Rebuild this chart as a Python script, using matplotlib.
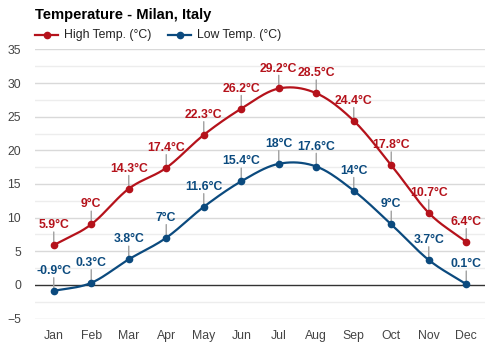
import numpy as np
import matplotlib
matplotlib.use("Agg")
import matplotlib.pyplot as plt
from matplotlib.lines import Line2D

plt.rcParams['font.family'] = ['Liberation Sans', 'DejaVu Sans']

months = ["Jan", "Feb", "Mar", "Apr", "May", "Jun", "Jul", "Aug", "Sep", "Oct", "Nov", "Dec"]
high = [5.9, 9.0, 14.3, 17.4, 22.3, 26.2, 29.2, 28.5, 24.4, 17.8, 10.7, 6.4]
low = [-0.9, 0.3, 3.8, 7.0, 11.6, 15.4, 18.0, 17.6, 14.0, 9.0, 3.7, 0.1]
high_labels = ["5.9°C", "9°C", "14.3°C", "17.4°C", "22.3°C", "26.2°C", "29.2°C", "28.5°C", "24.4°C", "17.8°C", "10.7°C", "6.4°C"]
low_labels = ["-0.9°C", "0.3°C", "3.8°C", "7°C", "11.6°C", "15.4°C", "18°C", "17.6°C", "14°C", "9°C", "3.7°C", "0.1°C"]
series_names = ["High Temp. (°C)", "Low Temp. (°C)"]
yticks = [-5, 0, 5, 10, 15, 20, 25, 30, 35]

RED = "#b5121b"
BLUE = "#0b4a7e"


def smooth(x, y, n=20):
    x = np.asarray(x, float)
    y = np.asarray(y, float)
    px = np.concatenate([[2 * x[0] - x[1]], x, [2 * x[-1] - x[-2]]])
    py = np.concatenate([[2 * y[0] - y[1]], y, [2 * y[-1] - y[-2]]])
    xs, ys = [], []
    for i in range(1, len(px) - 2):
        t = np.linspace(0, 1, n, endpoint=False)
        for arr, out in ((px, xs), (py, ys)):
            p0, p1, p2, p3 = arr[i - 1], arr[i], arr[i + 1], arr[i + 2]
            out.extend(0.5 * ((2 * p1) + (-p0 + p2) * t + (2 * p0 - 5 * p1 + 4 * p2 - p3) * t ** 2
                              + (-p0 + 3 * p1 - 3 * p2 + p3) * t ** 3))
    xs.append(x[-1])
    ys.append(y[-1])
    return np.array(xs), np.array(ys)


W, H = 500, 350
fig = plt.figure(figsize=(5, 3.5), dpi=100)
ax = fig.add_axes([0.07, 0.09, 0.90, 0.7686])
x = np.arange(len(months))

for yv in np.arange(-5, 35.1, 2.5):
    if yv == 0:
        continue
    major = (yv % 5 == 0)
    ax.axhline(yv, color="#d9d9d9" if major else "#ededed", lw=1.0, zorder=0)
ax.axhline(0, color="#333333", lw=1.0, zorder=1)

for vals, labels, col in ((high, high_labels, RED), (low, low_labels, BLUE)):
    sx, sy = smooth(x, vals)
    ax.plot(sx, sy, color=col, lw=1.6, zorder=3, solid_capstyle="round")
    ax.plot(x, vals, "o", color=col, ms=4.5, zorder=4)
    for xi, v, lab in zip(x, vals, labels):
        ax.annotate("", xy=(xi, v), xytext=(0, 9.5), textcoords="offset points",
                    arrowprops=dict(arrowstyle="-", color="#a0a0a0", lw=1.0, shrinkA=0, shrinkB=2),
                    zorder=2)
        ax.annotate(lab, xy=(xi, v), xytext=(0, 10), textcoords="offset points",
                    ha="center", va="bottom", color=col, fontsize=8.8, fontweight="bold", zorder=5)

ax.set_xlim(-0.5, 11.5)
ax.set_ylim(-5, 35)
ax.set_xticks(x)
ax.set_xticklabels(months)
ax.set_yticks(yticks)
for s in ax.spines.values():
    s.set_visible(False)
ax.tick_params(length=0, labelsize=8.8, labelcolor="#444444")
ax.tick_params(axis="x", pad=8)
ax.tick_params(axis="y", pad=10)

fig.text(35 / W, 1 - 15 / H, "Temperature - Milan, Italy", fontsize=10.6, fontweight="bold",
         ha="left", va="center", color="#000000")

# legend drawn in figure pixel positions
leg_y = 1 - 35 / H
for (x0, x1, tx), name, col in zip(((35, 58, 64), (168, 191, 197)), series_names, (RED, BLUE)):
    fig.add_artist(Line2D([x0 / W, x1 / W], [leg_y, leg_y], color=col, lw=1.6))
    fig.add_artist(Line2D([(x0 + x1) / 2 / W], [leg_y], color=col, marker="o", ms=4.5, lw=0))
    fig.text(tx / W, leg_y, name, fontsize=8.8, color="#222222", ha="left", va="center")

fig.savefig("out.png", dpi=100)
